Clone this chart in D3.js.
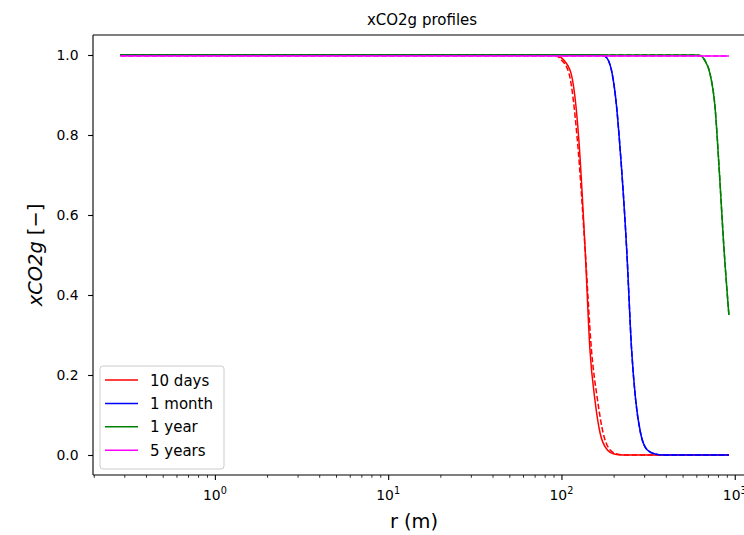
<!DOCTYPE html>
<html>
<head>
<meta charset="utf-8">
<script src="https://cdn.jsdelivr.net/npm/d3@7/dist/d3.min.js"></script>
<style>
  body { margin: 0; background: #fff; }
  text { font-family: "DejaVu Sans", sans-serif; fill: #000; }
</style>
</head>
<body>
<div id="chart"></div>
<script>
// series labels (legend)
const labels = ["10 days", "1 month", "1 year", "5 years"];

// solid lines: radius (m) and xCO2g
const rDays10 = [0.285, 90, 96, 103, 113.6, 126, 137, 146, 156, 167, 184, 201, 225, 925];
const vDays10 = [1, 1, 0.998, 0.9875, 0.954, 0.7875, 0.5125, 0.2625, 0.1375, 0.055, 0.0125, 0.0025, 0, 0];
const rMonth1 = [0.285, 165, 176, 186, 196, 208, 216, 238, 254, 268, 286, 313, 348, 385, 925];
const vMonth1 = [1, 1, 0.998, 0.9875, 0.954, 0.871, 0.7875, 0.5125, 0.2625, 0.1375, 0.055, 0.0125, 0.0025, 0, 0];
const rYear1 = [0.285, 600, 638, 670, 719, 769, 815, 860, 925];
const vYear1 = [1, 1, 0.998, 0.9875, 0.954, 0.871, 0.7075, 0.5375, 0.35];
const rYears5 = [0.285, 925];
const vYears5 = [0.9975, 0.9975];

// dashed lines (second profile set)
const rDays10b = [0.285, 87, 93.5, 100, 110.5, 123.5, 137, 149, 161.5, 174, 191, 209, 235, 925];
const vDays10b = [1, 1, 0.998, 0.9875, 0.954, 0.7875, 0.5125, 0.2625, 0.1375, 0.055, 0.0125, 0.0025, 0, 0];
const rMonth1b = [0.285, 165, 176, 186, 196, 208, 216, 238, 254, 268, 286, 313, 348, 385, 925];
const vMonth1b = [1, 1, 0.998, 0.9875, 0.954, 0.871, 0.7875, 0.5125, 0.2625, 0.1375, 0.055, 0.0125, 0.0025, 0, 0];
const rYear1b = [0.285, 600, 638, 670, 719, 769, 815, 860, 925];
const vYear1b = [1, 1, 0.998, 0.9875, 0.954, 0.871, 0.7075, 0.5375, 0.35];
const rYears5b = [0.285, 925];
const vYears5b = [0.9975, 0.9975];

// ticks
const yTicks = [0, 0.2, 0.4, 0.6, 0.8, 1.0];
const xMajor = [1, 10, 100, 1000];
const xExponents = ["0", "1", "2", "3"];

const colors = ["#ff0000", "#0000ff", "#008000", "#ff00ff"];

const zip = (rs, vs) => rs.map((r, i) => ({ r: r, v: vs[i] }));
const solid = [zip(rDays10, vDays10), zip(rMonth1, vMonth1), zip(rYear1, vYear1), zip(rYears5, vYears5)];
const dashed = [zip(rDays10b, vDays10b), zip(rMonth1b, vMonth1b), zip(rYear1b, vYear1b), zip(rYears5b, vYears5b)];

const W = 744, H = 535;
const m = { left: 93, top: 35, bottom: 475, right: 759 };

const svg = d3.select("#chart").append("svg")
  .attr("width", W).attr("height", H);

const x = d3.scaleLog().domain([0.198, 1380]).range([m.left, m.right]);
const y = d3.scaleLinear().domain([-0.05, 1.05]).range([m.bottom, m.top]);

// minor ticks
const xMinor = [];
[0.1, 1, 10, 100].forEach(d => {
  for (let k = 2; k <= 9; k++) {
    const v = d * k;
    if (v >= 0.198 && v <= 1380) xMinor.push(v);
  }
});

// Lines
const line = d3.line()
  .x(d => x(d.r))
  .y(d => y(d.v))
  .curve(d3.curveMonotoneX);

const lines = svg.append("g");
solid.forEach((s, i) => {
  lines.append("path")
    .datum(s)
    .attr("fill", "none")
    .attr("stroke", colors[i])
    .attr("stroke-width", 1.5)
    .attr("d", line);
  lines.append("path")
    .datum(dashed[i])
    .attr("fill", "none")
    .attr("stroke", colors[i])
    .attr("stroke-width", 1.5)
    .attr("stroke-dasharray", "5.5,2.4")
    .attr("d", line);
});

// Axes
const xAxis = svg.append("g")
  .attr("transform", `translate(0,${m.bottom})`)
  .call(d3.axisBottom(x).tickValues(xMajor).tickSize(4.9).tickFormat(""));
xAxis.select(".domain").remove();
xAxis.selectAll("line").attr("stroke-width", 1.1);

const xMinorAxis = svg.append("g")
  .attr("transform", `translate(0,${m.bottom})`)
  .call(d3.axisBottom(x).tickValues(xMinor).tickSize(2.8).tickFormat(""));
xMinorAxis.select(".domain").remove();
xMinorAxis.selectAll("line").attr("stroke-width", 0.8);

xMajor.forEach((v, i) => {
  const t = svg.append("text")
    .attr("x", x(v))
    .attr("y", m.bottom + 25)
    .attr("text-anchor", "middle")
    .style("font-size", "13.9px");
  t.append("tspan").text("10");
  t.append("tspan").attr("dy", -6).style("font-size", "9.7px").text(xExponents[i]);
});

const yAxis = svg.append("g")
  .attr("transform", `translate(${m.left},0)`)
  .call(d3.axisLeft(y).tickValues(yTicks).tickSize(4.9).tickPadding(9.5).tickFormat(d3.format(".1f")));
yAxis.select(".domain").remove();
yAxis.selectAll("line").attr("stroke-width", 1.1);
yAxis.selectAll("text").style("font-size", "13.9px").style("font-family", "DejaVu Sans");

// spines: left, bottom, top (right one falls outside the picture)
const spines = svg.append("g").attr("stroke", "#000").attr("stroke-width", 1.1).attr("fill", "none");
spines.append("line").attr("x1", m.left).attr("x2", m.left).attr("y1", m.top).attr("y2", m.bottom);
spines.append("line").attr("x1", m.left).attr("x2", m.right).attr("y1", m.bottom).attr("y2", m.bottom);
spines.append("line").attr("x1", m.left).attr("x2", m.right).attr("y1", m.top).attr("y2", m.top);
spines.append("line").attr("x1", m.right).attr("x2", m.right).attr("y1", m.top).attr("y2", m.bottom);

// Title and labels
svg.append("text")
  .attr("x", 422)
  .attr("y", m.top - 10)
  .attr("text-anchor", "middle")
  .style("font-size", "15px")
  .text("xCO2g profiles");

svg.append("text")
  .attr("x", 414)
  .attr("y", m.bottom + 53)
  .attr("text-anchor", "middle")
  .style("font-size", "19.4px")
  .text("r (m)");

const yl = svg.append("text")
  .attr("transform", `translate(42,${(m.top + m.bottom) / 2}) rotate(-90)`)
  .attr("text-anchor", "middle")
  .style("font-size", "19.4px");
yl.append("tspan").style("font-style", "italic").text("xCO2g");
yl.append("tspan").text(" [\u2212]");

// Legend
const legend = svg.append("g").attr("transform", `translate(${m.left + 7},${m.bottom - 109})`);
legend.append("rect")
  .attr("width", 124).attr("height", 103)
  .attr("rx", 3).attr("ry", 3)
  .attr("fill", "#fff").attr("fill-opacity", 0.8)
  .attr("stroke", "#cccccc").attr("stroke-width", 1);
labels.forEach((lab, i) => {
  const yy = 14 + i * 23.4;
  legend.append("line")
    .attr("x1", 5).attr("x2", 38)
    .attr("y1", yy).attr("y2", yy)
    .attr("stroke", colors[i]).attr("stroke-width", 1.5);
  legend.append("text")
    .attr("x", 50).attr("y", yy + 5.5)
    .style("font-size", "15px")
    .text(lab);
});
</script>
</body>
</html>
